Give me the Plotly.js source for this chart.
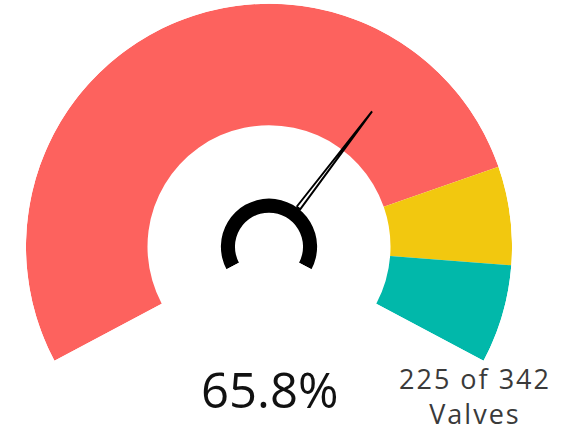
<!DOCTYPE html>
<html>
<head>
<meta charset="utf-8">
<script src="https://cdn.plot.ly/plotly-3.0.1.min.js"></script>
<style>html,body{margin:0;padding:0;background:#fff;}#chart{width:564px;height:433px;}</style>
</head>
<body>
<div id="chart"></div>
<script>
// ---- data ----
const gaugeValue = 65.8;            // percent
const countDone = 225;
const countTotal = 342;
const unitLabel = "Valves";
const bandEdges = [0, 80, 90, 100];  // gauge bands (percent)
const bandColors = ["#FD625E", "#F2C80F", "#01B8AA"];
const gaugeMin = 0;
const gaugeMax = 100;

// ---- geometry / styling ----
const SWEEP = 236;      // degrees covered by the gauge arc
const START = 208;      // screen angle (ccw from east) of gauge minimum
const toDeg = v => (v - gaugeMin) / (gaugeMax - gaugeMin) * SWEEP;

const traces = [];
for (let i = 0; i < bandColors.length; i++) {
  const lo = bandEdges[i], hi = bandEdges[i + 1];
  traces.push({
    type: "barpolar",
    theta: [toDeg((lo + hi) / 2)],
    width: [toDeg(hi) - toDeg(lo)],
    r: [0.5], base: [0.5],
    marker: {color: bandColors[i], line: {width: 0}},
    hoverinfo: "skip", showlegend: false
  });
}
// central hub ring
traces.push({
  type: "barpolar",
  theta: [toDeg((gaugeMin + gaugeMax) / 2)],
  width: [SWEEP],
  r: [0.058], base: [0.14],
  marker: {color: "#000000", line: {width: 0}},
  hoverinfo: "skip", showlegend: false
});
// needle
const nd = toDeg(gaugeValue);
traces.push({
  type: "scatterpolar",
  mode: "lines",
  theta: [nd - 2.6, nd, nd + 2.6, nd - 2.6],
  r: [0.2, 0.70, 0.2, 0.2],
  fill: "toself", fillcolor: "#ffffff",
  line: {color: "#000000", width: 2},
  hoverinfo: "skip", showlegend: false
});

const layout = {
  width: 564, height: 433,
  margin: {l: 0, r: 0, t: 0, b: 0},
  paper_bgcolor: "#ffffff",
  showlegend: false,
  polar: {
    domain: {x: [26 / 564, 512 / 564], y: [1 - 361 / 433, 1 - 3.5 / 433]},
    sector: [START - SWEEP, START],
    barmode: "overlay",
    bgcolor: "rgba(0,0,0,0)",
    angularaxis: {visible: false, rotation: START, direction: "clockwise", thetaunit: "degrees"},
    radialaxis: {visible: false, range: [0, 1]}
  },
  annotations: [
    {
      xref: "paper", yref: "paper", x: 269 / 564, y: 1 - 389 / 433,
      xanchor: "center", yanchor: "middle", showarrow: false,
      text: gaugeValue.toFixed(1) + "%",
      font: {family: "Open Sans", size: 49, color: "#111111"}
    },
    {
      xref: "paper", yref: "paper", x: 475 / 564, y: 1 - 396 / 433,
      xanchor: "center", yanchor: "middle", showarrow: false,
      text: '<span style="letter-spacing:2px">' + countDone + " of " + countTotal + "</span><br>" +
            '<span style="letter-spacing:2px">' + unitLabel + "</span>",
      font: {family: "Open Sans", size: 27, color: "#3a3a3a"}
    }
  ]
};

Plotly.newPlot("chart", traces, layout, {displayModeBar: false, staticPlot: true});
</script>
</body>
</html>
